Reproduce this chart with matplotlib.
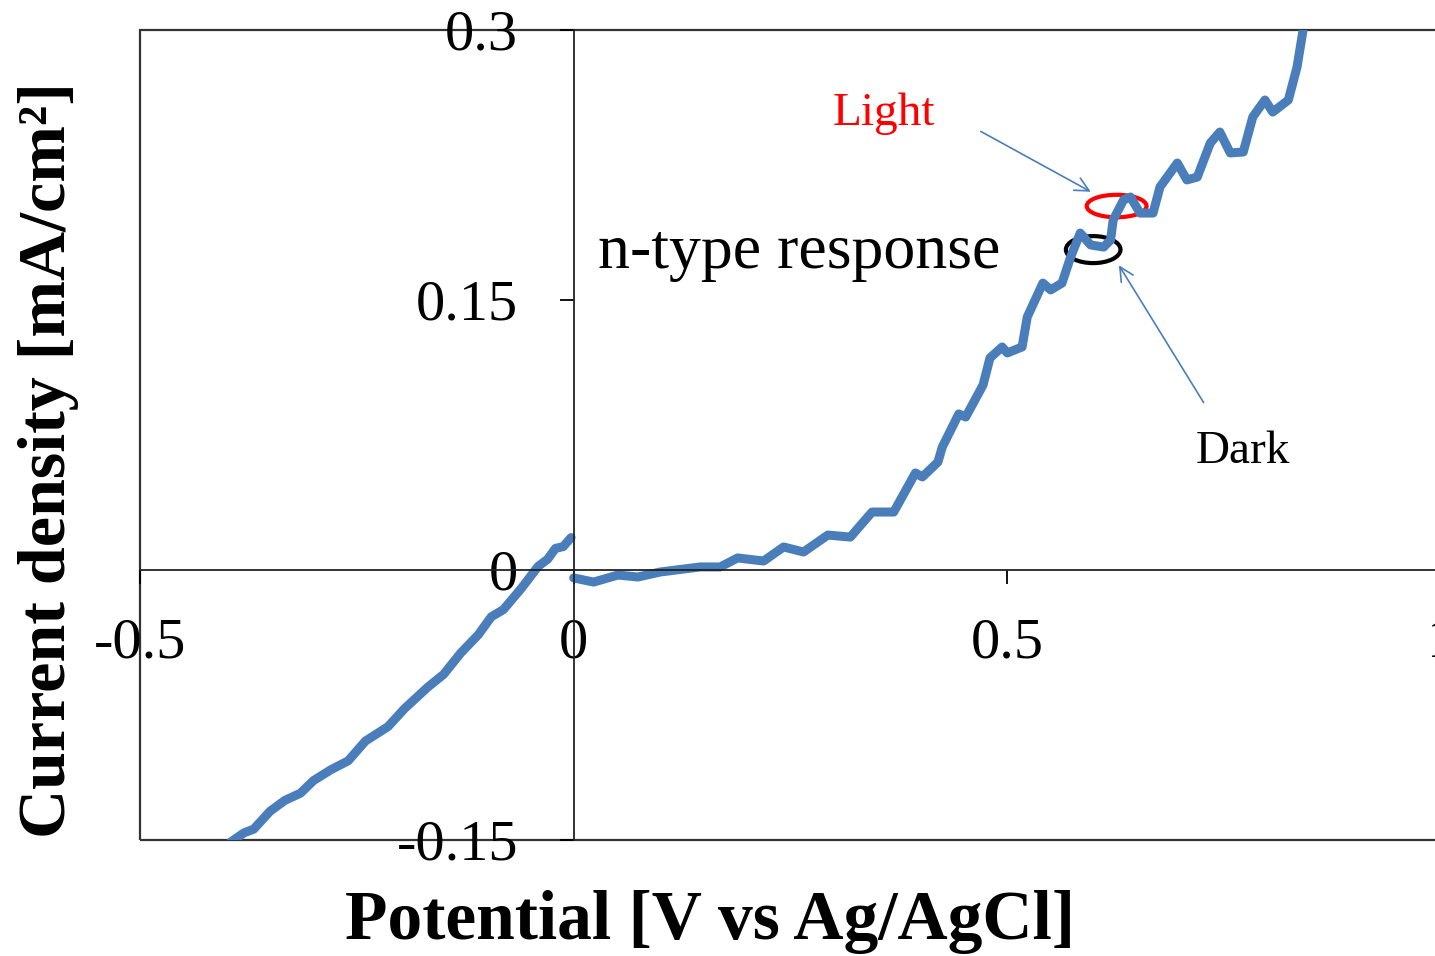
import matplotlib.pyplot as plt
from matplotlib.patches import Rectangle, Ellipse

# cathodic branch (negative potentials)
v_neg = [-0.395, -0.380, -0.369, -0.350, -0.333, -0.315, -0.300, -0.280, -0.260, -0.240,
         -0.214, -0.195, -0.168, -0.150, -0.130, -0.110, -0.095, -0.081, -0.060, -0.041,
         -0.030, -0.021, -0.012, -0.003]
j_neg = [-0.151, -0.146, -0.144, -0.134, -0.128, -0.124, -0.117, -0.111, -0.106, -0.095,
         -0.087, -0.077, -0.065, -0.058, -0.046, -0.036, -0.026, -0.022, -0.010, 0.002,
         0.006, 0.012, 0.013, 0.018]

# anodic branch (chopped light)
v_pos = [0.000, 0.023, 0.051, 0.074, 0.100, 0.146, 0.169, 0.189, 0.219, 0.242, 0.265, 0.293,
         0.319, 0.344, 0.369, 0.394, 0.402, 0.420, 0.425, 0.444, 0.452, 0.472, 0.480, 0.494,
         0.500, 0.517, 0.523, 0.541, 0.550, 0.563, 0.573, 0.584, 0.596, 0.611, 0.619, 0.622,
         0.634, 0.642, 0.653, 0.668, 0.676, 0.696, 0.707, 0.719, 0.734, 0.745, 0.757, 0.772,
         0.783, 0.797, 0.806, 0.824, 0.834, 0.841]
j_pos = [-0.0044, -0.0067, -0.0028, -0.0039, -0.0011, 0.0017, 0.0017, 0.0067, 0.0050, 0.0128,
         0.0100, 0.0194, 0.0183, 0.0322, 0.0322, 0.0539, 0.0517, 0.0600, 0.0683, 0.0867,
         0.0850, 0.1028, 0.1178, 0.1239, 0.1206, 0.1239, 0.1406, 0.1594, 0.1556, 0.1594,
         0.1739, 0.1872, 0.1806, 0.1794, 0.1833, 0.1944, 0.2056, 0.2072, 0.1983, 0.1983,
         0.2128, 0.2261, 0.2167, 0.2183, 0.2372, 0.2433, 0.2317, 0.2322, 0.2517, 0.2611,
         0.2544, 0.2611, 0.2794, 0.3000]

x_ticks = [-0.5, 0, 0.5, 1]
x_labels = ["-0.5", "0", "0.5", "1"]
y_ticks = [-0.15, 0, 0.15, 0.3]
y_labels = ["-0.15", "0", "0.15", "0.3"]

blue = "#4a7ebb"
plt.rcParams['font.family'] = ['Liberation Serif', 'DejaVu Serif']

fig = plt.figure(figsize=(14.35, 9.56), dpi=100)
ax = fig.add_axes([140/1435, 116/956, 1301/1435, 810/956])
ax.set_xlim(-0.5, 1.0)
ax.set_ylim(-0.15, 0.3)

ax.plot(v_neg, j_neg, color=blue, lw=6.5, solid_capstyle='round', solid_joinstyle='round')
ax.plot(v_pos, j_pos, color=blue, lw=6.5, solid_capstyle='round', solid_joinstyle='round')

for s in ['top', 'right']:
    ax.spines[s].set_visible(False)
for s in ['left', 'bottom']:
    ax.spines[s].set_position(('data', 0))
    ax.spines[s].set_linewidth(1.3)
    ax.spines[s].set_color('#222222')
ax.add_patch(Rectangle((0, 0), 1, 1, transform=ax.transAxes, fill=False,
                       lw=1.6, edgecolor='#333333', clip_on=False))

ax.set_xticks(x_ticks)
ax.set_xticklabels(x_labels)
ax.set_yticks(y_ticks)
ax.set_yticklabels(y_labels)
ax.tick_params(axis='x', direction='out', length=10, width=1.3, pad=24, labelsize=42)
ax.tick_params(axis='y', direction='out', length=10, width=1.3, pad=30, labelsize=42)

ax.set_xlabel("Potential [V vs Ag/AgCl]", fontsize=50, fontweight='bold')
ax.xaxis.set_label_coords(0.438, -0.062)
ax.set_ylabel("Current density [mA/cm²]", fontsize=49, fontweight='bold')
ax.yaxis.set_label_coords(-0.047, 0.469)

ax.add_patch(Ellipse((0.626, 0.2022), 0.069, 0.0125, fill=False, edgecolor='red', lw=3))
ax.add_patch(Ellipse((0.599, 0.178), 0.063, 0.015, fill=False, edgecolor='black', lw=3))

ax.annotate('', xy=(0.599, 0.2094), xytext=(0.4666, 0.2444),
            arrowprops=dict(arrowstyle='->', color=blue, lw=1.2, mutation_scale=25))
ax.annotate('', xy=(0.627, 0.1706), xytext=(0.728, 0.0917),
            arrowprops=dict(arrowstyle='->', color=blue, lw=1.2, mutation_scale=25))

ax.text(0.298, 0.2472, "Light", color='red', fontsize=34, va='baseline')
ax.text(0.0276, 0.1678, "n-type response", color='black', fontsize=46, va='baseline')
ax.text(0.7166, 0.0594, "Dark", color='black', fontsize=34, va='baseline')

fig.savefig("out.png", dpi=100)
